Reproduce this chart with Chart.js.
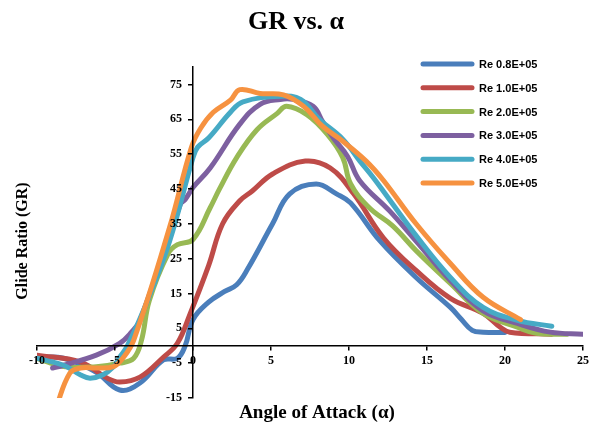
<!DOCTYPE html>
<html><head><meta charset="utf-8">
<script src="https://cdn.jsdelivr.net/npm/chart.js@4"></script>
<style>html,body{margin:0;padding:0;background:#fff;overflow:hidden}</style>
</head><body>
<canvas id="c" width="597" height="427"></canvas>
<script>
// ---- data ----
const chartTitle = 'GR vs. α';
const xTitle = 'Angle of Attack (α)';
const yTitle = 'Glide Ratio (GR)';
const seriesNames = ['Re 0.8E+05','Re 1.0E+05','Re 2.0E+05','Re 3.0E+05','Re 4.0E+05','Re 5.0E+05'];
const seriesColors = ['#4a7ebb','#be4b48','#98b954','#7d60a0','#46aac5','#f69240'];
const xTicks = [-10,-5,0,5,10,15,20,25];
const yTicks = [-15,-5,5,15,25,35,45,55,65,75];

const re08Alpha = [-10,-8.3,-6.2,-4.7,-3.4,-1.9,-1.0,-0.5,0,1,2,2.8,3.5,5.1,6.2,7.9,9.2,10.1,12,14.3,16.5,17.2,17.9,18.6,20];
const re08GR    = [-3.3,-3.6,-7.6,-12.7,-10.7,-4.1,-3.6,0,7.5,12.5,15.5,17.5,22,35,43.6,46.4,43.6,41,30,19.6,11,7.6,4.4,3.9,3.8];

const re10Alpha = [-10,-7.2,-5.5,-4.7,-3.4,-1.9,-1.0,-0.2,1,1.9,3,3.8,5.1,7.2,8.8,10.3,12.2,14.3,16.5,18.6,19.7,20.3,23];
const re10GR    = [-2.7,-4.7,-9.3,-10.4,-9,-3.3,0.7,9,23,35,41.6,44.4,49.3,53,51,43.6,31,21.6,13.6,9.3,5.3,3.9,3.3];

const re20Alpha = [-10,-8.3,-6.2,-4.7,-3.8,-3.3,-2.8,-1.6,-1.0,0,1.1,1.7,2.8,4.1,5.4,6.0,7.3,8.6,9.6,10.1,11.3,12.8,14.3,16.5,18.6,20.8,22,24];
const re20GR    = [-3.6,-6,-6,-5,-3.6,1.6,13,26.4,29,30.5,39.6,45,54,62,66.7,68.7,66.3,60.7,54,46.5,39.6,34.4,27.3,17.9,9.3,5.3,3.6,3.3];

const re30Alpha = [-9,-8.3,-6.2,-4.7,-4,-3.4,-0.8,-0.5,0,1.1,3,4.3,5.6,6.4,7.7,8.3,9,9.9,10.7,12.6,14.3,16.5,18.6,20.8,22.9,25];
const re30GR    = [-6.4,-5.6,-2.7,0.7,3.6,7.3,40.7,42,45.4,51,63.6,69.3,70.7,70.7,68.7,64.4,59.6,54.4,47.3,38.7,30,18.7,10,6.4,3.9,3.3];

const re40Alpha = [-10,-8.3,-7.2,-6.6,-5.8,-5.1,-4.7,-4.2,-3,-1.5,0,0.3,1,2.4,3.2,5.6,6.9,8.1,9.6,10.7,11.6,14.3,16.5,18.6,20.8,23];
const re40GR    = [-3.6,-5.6,-8.4,-9.3,-8.4,-6,-3.3,0,12,30,54,57,59.6,67,70,71.6,70.7,65,59.3,53,48,31.6,19.6,11,7.3,5.6];

const re50Alpha = [-8.8,-7.9,-7.2,-6.2,-5.1,-4.5,-3.8,-1.5,-0.1,0.5,1.3,2.4,3,4.3,5.8,7.1,8.3,9.6,11.1,12.2,14.3,16.5,18.6,21];
const re50GR    = [-18,-7.9,-6.4,-6.4,-6,-3.6,1.6,34,57,62.5,67,70.5,73.5,72.4,72,68.7,63,58.7,53,47.5,35,23.6,13.9,7.5];

const alphaSets = [re08Alpha,re10Alpha,re20Alpha,re30Alpha,re40Alpha,re50Alpha];
const grSets    = [re08GR,re10GR,re20GR,re30GR,re40GR,re50GR];

// ---- chart ----
const datasets = seriesNames.map((name,i)=>({
  label: name,
  data: alphaSets[i].map((a,k)=>({x:a, y:grSets[i][k]})),
  borderColor: seriesColors[i],
  backgroundColor: seriesColors[i],
  borderWidth: 5,
  pointRadius: 0,
  tension: 0.4,
  fill: false,
  borderCapStyle: 'round',
  borderJoinStyle: 'round',
  order: seriesNames.length - i
}));

const serif = '"Liberation Serif","Times New Roman",serif';
const sans = '"Liberation Sans",Arial,sans-serif';

const deco = {
  id: 'deco',
  afterDraw(chart){
    const ctx = chart.ctx;
    const xs = chart.scales.x, ys = chart.scales.y;
    ctx.save();
    ctx.fillStyle = '#000';
    // y tick labels (left of the y axis, which sits at x = 0)
    const axisX = xs.getPixelForValue(0);
    ctx.font = 'bold 12px ' + serif;
    ctx.textAlign = 'right';
    ctx.textBaseline = 'middle';
    yTicks.forEach(v => ctx.fillText(String(v), axisX - 11, ys.getPixelForValue(v)));
    // titles
    ctx.textAlign = 'center';
    ctx.textBaseline = 'alphabetic';
    ctx.font = 'bold 26px ' + serif;
    ctx.fillText(chartTitle, 296, 29);
    ctx.font = 'bold 19px ' + serif;
    ctx.fillText(xTitle, 317, 418);
    ctx.save();
    ctx.translate(27, 241);
    ctx.rotate(-Math.PI/2);
    ctx.font = 'bold 16px ' + serif;
    ctx.fillText(yTitle, 0, 0);
    ctx.restore();
    // legend
    ctx.font = 'bold 11px ' + sans;
    ctx.textAlign = 'left';
    ctx.textBaseline = 'middle';
    chart.data.datasets.forEach((ds,i)=>{
      const y = 64 + i*23.8;
      ctx.strokeStyle = ds.borderColor;
      ctx.lineWidth = 5;
      ctx.lineCap = 'round';
      ctx.beginPath(); ctx.moveTo(423,y); ctx.lineTo(472,y); ctx.stroke();
      ctx.fillStyle = '#000';
      ctx.fillText(ds.label, 479, y+1);
    });
    ctx.restore();
  }
};

new Chart(document.getElementById('c'), {
  type: 'line',
  data: { datasets },
  plugins: [deco],
  options: {
    responsive: false,
    animation: false,
    events: [],
    layout: { padding: { left: 37, right: 14, top: 67, bottom: 29 } },
    plugins: { legend: { display: false }, title: { display: false }, tooltip: { enabled: false } },
    scales: {
      x: {
        type: 'linear',
        position: { y: 0 },
        min: -10, max: 25,
        afterBuildTicks: s => { s.ticks = xTicks.map(v=>({value:v})); },
        grid: { drawOnChartArea: false, drawTicks: true, tickLength: 4, color: '#000', lineWidth: 1.5, z: 1 },
        border: { color: '#000', width: 1.5, z: 1 },
        ticks: { z: 1, autoSkip: false, maxRotation: 0, padding: 4, color: '#000', font: { family: serif, size: 12, weight: 'bold' } }
      },
      y: {
        type: 'linear',
        position: { x: 0 },
        min: -15, max: 80,
        afterBuildTicks: s => { s.ticks = yTicks.map(v=>({value:v})); },
        grid: { drawOnChartArea: false, drawTicks: true, tickLength: 4, color: '#000', lineWidth: 1.5, z: 1 },
        border: { color: '#000', width: 1.5, z: 1 },
        ticks: { display: false }
      }
    }
  }
});
</script>
</body></html>
